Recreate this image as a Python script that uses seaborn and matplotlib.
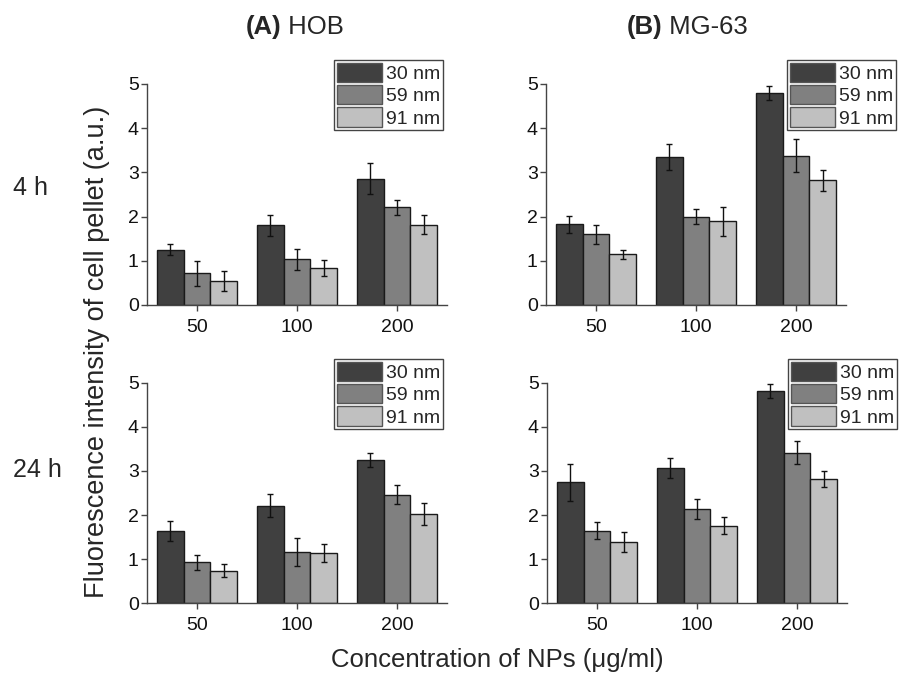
import numpy as np
import pandas as pd
import matplotlib
matplotlib.use("Agg")
import matplotlib.pyplot as plt
import seaborn as sns

# ---------------- data ----------------
concentrations = ["50", "100", "200"]
sizes = ["30 nm", "59 nm", "91 nm"]

# rows = particle size (30, 59, 91 nm); columns = concentration (50, 100, 200)
hob_4h_mean = [[1.25, 1.80, 2.86], [0.72, 1.03, 2.21], [0.54, 0.83, 1.82]]
hob_4h_err = [[0.12, 0.24, 0.35], [0.28, 0.23, 0.17], [0.22, 0.18, 0.21]]
mg63_4h_mean = [[1.83, 3.35, 4.79], [1.60, 2.00, 3.38], [1.15, 1.89, 2.82]]
mg63_4h_err = [[0.19, 0.30, 0.16], [0.21, 0.17, 0.38], [0.10, 0.33, 0.24]]
hob_24h_mean = [[1.64, 2.21, 3.25], [0.93, 1.16, 2.46], [0.73, 1.14, 2.02]]
hob_24h_err = [[0.23, 0.26, 0.16], [0.17, 0.31, 0.22], [0.15, 0.21, 0.25]]
mg63_24h_mean = [[2.74, 3.07, 4.81], [1.64, 2.14, 3.42], [1.39, 1.76, 2.82]]
mg63_24h_err = [[0.42, 0.22, 0.16], [0.19, 0.22, 0.26], [0.22, 0.19, 0.19]]

panel_titles = ["(A)", "(B)"]
panel_subtitles = [" HOB", " MG-63"]
row_labels = ["4 h", "24 h"]
ylabel = "Fluorescence intensity of cell pellet (a.u.)"
xlabel = "Concentration of NPs (\u03bcg/ml)"

colors = ["#404040", "#808080", "#c0c0c0"]


def make_df(mean, err):
    rows = []
    for si, s in enumerate(sizes):
        for ci, c in enumerate(concentrations):
            rows.append({"conc": c, "size": s, "value": mean[si][ci], "err": err[si][ci]})
    return pd.DataFrame(rows)


sns.set_theme(style="white")
plt.rcParams["font.family"] = ["Liberation Sans", "DejaVu Sans"]

fig = plt.figure(figsize=(9.05, 6.76), dpi=100)
W, H = 905.0, 676.0

panels = [
    (hob_4h_mean, hob_4h_err, 147, 84, 305, 0),
    (mg63_4h_mean, mg63_4h_err, 546, 84, 305, 1),
    (hob_24h_mean, hob_24h_err, 147, 383, 603, 0),
    (mg63_24h_mean, mg63_24h_err, 547, 383, 603, 1),
]

for mean, err, left, top, bottom, col in panels:
    ax = fig.add_axes([left / W, 1 - bottom / H, 300 / W, (bottom - top) / H])
    df = make_df(mean, err)
    sns.barplot(data=df, x="conc", y="value", hue="size", order=concentrations,
                hue_order=sizes, palette=colors, edgecolor="#1a1a1a", linewidth=1.0,
                errorbar=None, width=0.8, ax=ax, saturation=1)
    # error bars at the bar centres given by seaborn
    for container, s in zip(ax.containers, sizes):
        for bar in container:
            xc = bar.get_x() + bar.get_width() / 2
            ci = int(round(xc))
            row = df[(df["size"] == s) & (df["conc"] == concentrations[ci])].iloc[0]
            ax.errorbar(xc, row["value"], yerr=row["err"], fmt="none", ecolor="#111111",
                        elinewidth=1.0, capsize=2.2, capthick=1.0, zorder=5)
    ax.set_xlim(-0.5, 2.5)
    ax.set_ylim(0, 5)
    ax.set_yticks([0, 1, 2, 3, 4, 5])
    ax.set_xlabel("")
    ax.set_ylabel("")
    for sp in ["top", "right"]:
        ax.spines[sp].set_visible(False)
    for sp in ["left", "bottom"]:
        ax.spines[sp].set_color("#444444")
        ax.spines[sp].set_linewidth(1.0)
    ax.tick_params(axis="y", direction="out", length=4, width=1, color="#444444",
                   labelsize=14, labelcolor="#111111", pad=2, left=True)
    ax.tick_params(axis="x", direction="out", length=4, width=1, color="#444444",
                   labelsize=14, labelcolor="#111111", pad=6, bottom=True)
    handles, labels = ax.get_legend_handles_labels()
    if col == 0:
        anchor = (0.987, (bottom - (top - 24)) / (bottom - top))
    else:
        anchor = (1.167, (bottom - (top - 24)) / (bottom - top))
    leg = ax.legend(handles, labels, loc="upper right", bbox_to_anchor=anchor,
                    borderaxespad=0, fontsize=14, frameon=True, fancybox=False,
                    edgecolor="#444444", framealpha=1, handlelength=2.3,
                    handleheight=1.15, labelspacing=0.1, handletextpad=0.22,
                    borderpad=0.15)
    leg.get_frame().set_linewidth(1.0)
    for p in leg.get_patches():
        p.set_edgecolor("#555555")

# titles with bold panel letters
title_y = 1 - 27 / H
for x_right, letter, sub in [(281, panel_titles[0], panel_subtitles[0]),
                             (662, panel_titles[1], panel_subtitles[1])]:
    fig.text(x_right / W, title_y, letter, ha="right", va="center",
             fontsize=18.5, fontweight="bold")
    fig.text(x_right / W, title_y, sub, ha="left", va="center", fontsize=18.5)

# row labels
fig.text(13 / W, 1 - 188 / H, row_labels[0], ha="left", va="center", fontsize=18)
fig.text(13 / W, 1 - 470 / H, row_labels[1], ha="left", va="center", fontsize=18)

# shared axis labels
fig.text(97 / W, 1 - 352 / H, ylabel, rotation=90, ha="center", va="center", fontsize=19.5)
fig.text(497 / W, 1 - 660 / H, xlabel, ha="center", va="center", fontsize=18.5)

fig.savefig("out.png", dpi=100)
